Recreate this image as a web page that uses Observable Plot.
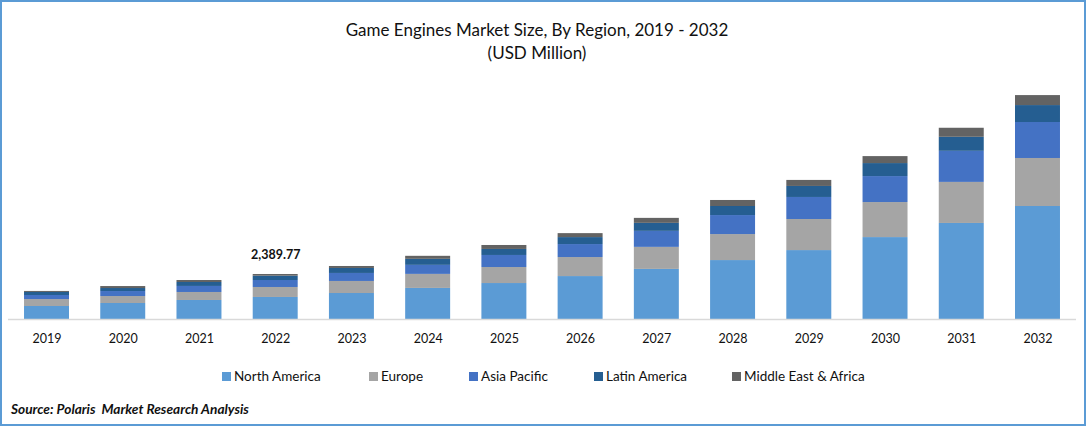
<!DOCTYPE html>
<html><head><meta charset="utf-8">
<script src="https://cdn.jsdelivr.net/npm/d3@7"></script>
<script src="https://cdn.jsdelivr.net/npm/@observablehq/plot@0.6"></script>
<style>
html,body{margin:0;padding:0;background:#fff}
#frame{position:relative;width:1086px;height:426px;overflow:hidden;font-family:Lato,sans-serif;color:#111;background:#fff}
#border{position:absolute;inset:0;border:2px solid #5b9bd5;box-sizing:border-box;pointer-events:none}
#title{position:absolute;left:0;width:1074px;top:18px;text-align:center;font-size:17px;line-height:23px}
#chart{position:absolute;left:0;top:0}
#legend{position:absolute;top:367px;left:0;width:1086px;height:18px;font-size:13.5px;line-height:18px}
.item{position:absolute;white-space:nowrap}
.sw{display:inline-block;width:9px;height:9px;margin-right:3px}
#source{position:absolute;left:11px;top:400px;font-size:13.7px;font-weight:bold;font-style:italic}
</style></head><body>
<div id="frame">
<div id="chart"></div>
<div id="title">Game Engines Market Size, By Region, 2019 - 2032<br>(USD Million)</div>
<div id="legend"></div>
<div id="source">Source: Polaris&nbsp; Market Research Analysis</div>
<div id="border"></div>
</div>
<script>
const years = ["2019","2020","2021","2022","2023","2024","2025","2026","2027","2028","2029","2030","2031","2032"];
const regions = ["North America","Europe","Asia Pacific","Latin America","Middle East & Africa"];
const colors = ["#5b9bd5","#a5a5a5","#4472c4","#255e91","#636363"];
const northAmerica = [690,850,1010,1170,1380,1650,1910,2280,2660,3130,3660,4350,5100,6000];
const europe = [370,370,425,530,640,745,850,1010,1170,1380,1650,1860,2180,2550];
const asiaPacific = [215,265,320,370,425,480,640,690,850,1010,1170,1380,1650,1910];
const latinAmerica = [160,160,210,230,265,320,320,370,425,480,585,690,745,900];
const middleEastAfrica = [55,105,105,90,105,160,210,210,265,320,320,370,480,530];
const total2022Label = "2,389.77";
const series = [northAmerica,europe,asiaPacific,latinAmerica,middleEastAfrica];
const rows = regions.flatMap((r,i)=>years.map((y,j)=>({year:y,region:r,value:series[i][j]})));

const plot = Plot.plot({
  width:1086,height:426,
  marginTop:0,marginRight:10,marginBottom:107,marginLeft:8,
  style:{background:"transparent",fontFamily:"Lato, sans-serif",overflow:"visible"},
  x:{domain:years,range:[8.4,1075.6],round:false,paddingInner:0.41,paddingOuter:0.205,label:null},
  y:{domain:[0,10000],range:[319,319-10000/53.1],axis:null},
  color:{domain:regions,range:colors},
  marks:[
    Plot.barY(rows,{x:"year",y:"value",fill:"region",order:regions}),
    Plot.ruleY([0],{stroke:"#d9d9d9",strokeWidth:1.5}),
    Plot.text([{year:"2022",y:2389.77}],{x:"year",y:"y",text:()=>total2022Label,dy:-19,fontWeight:"bold",fontSize:12.5,fill:"#111"}),
    Plot.axisX({fontSize:12.5,tickSize:0,tickPadding:15,color:"#111",label:null})
  ]
});
document.getElementById("chart").append(plot);

const legendX = [222,369,469,594,732];
const lg = document.getElementById("legend");
regions.forEach((r,i)=>{
  const d=document.createElement("div");d.className="item";d.style.left=legendX[i]+"px";
  const s=document.createElement("span");s.className="sw";s.style.background=colors[i];
  d.append(s,document.createTextNode(r));lg.append(d);
});
</script>
</body></html>
